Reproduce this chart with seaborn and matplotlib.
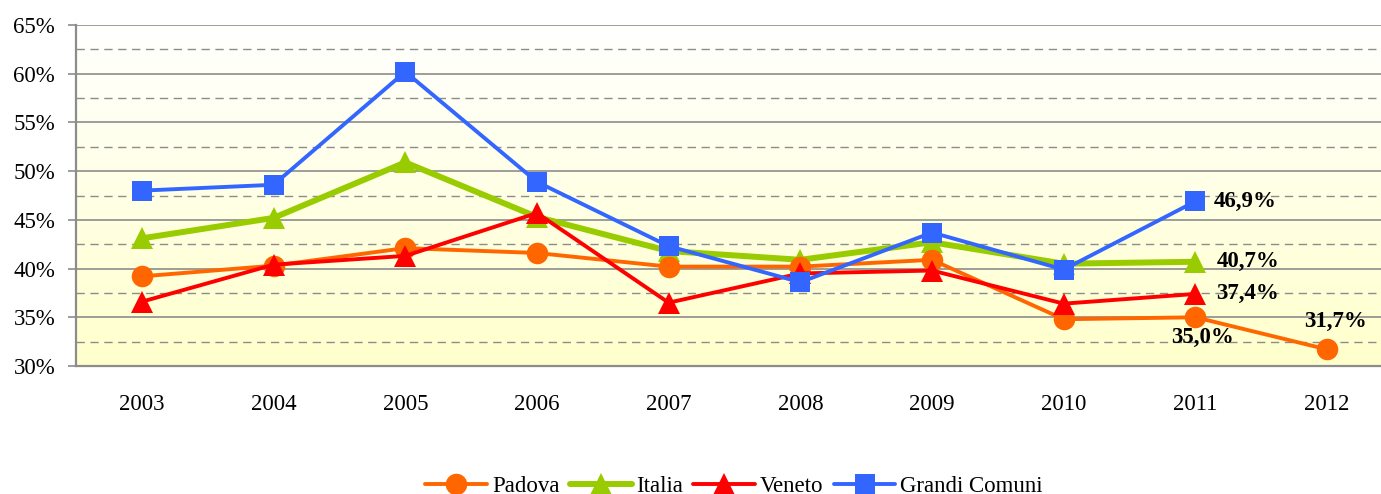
import numpy as np
import pandas as pd
import matplotlib
matplotlib.use("Agg")
import matplotlib.pyplot as plt
import seaborn as sns
from matplotlib.colors import LinearSegmentedColormap

years = ["2003", "2004", "2005", "2006", "2007", "2008", "2009", "2010", "2011", "2012"]
padova = [39.2, 40.3, 42.1, 41.6, 40.2, 40.2, 40.9, 34.8, 35.0, 31.7]
italia = [43.1, 45.2, 50.9, 45.3, 41.8, 40.9, 42.7, 40.5, 40.7, np.nan]
veneto = [36.6, 40.4, 41.3, 45.7, 36.5, 39.5, 39.8, 36.4, 37.4, np.nan]
grandi = [48.0, 48.6, 60.2, 48.9, 42.3, 38.6, 43.7, 39.9, 46.9, np.nan]
y_ticks = [30, 35, 40, 45, 50, 55, 60, 65]

sns.set_theme(style="white")
plt.rcParams['font.family'] = ['Liberation Serif', 'DejaVu Serif']
plt.rcParams['text.color'] = 'black'
plt.rcParams['xtick.color'] = 'black'
plt.rcParams['ytick.color'] = 'black'

W, H = 1381, 494
fig = plt.figure(figsize=(W / 100, H / 100), dpi=100)
ax = fig.add_axes([76 / W, 1 - 366 / H, (1393 - 76) / W, 341 / H])

x = np.arange(len(years))

# gradient background
cmap = LinearSegmentedColormap.from_list("bg", ["#FFFFFF", "#FFFFCC"])
grad = np.linspace(0, 1, 256).reshape(-1, 1)
ax.imshow(grad, aspect="auto", cmap=cmap, extent=[-0.5, 9.5, 30, 65],
          origin="upper", zorder=0)

# grid lines
for v in y_ticks:
    ax.axhline(v, color="#8C8C8C", lw=1.2, zorder=1)
for v in np.arange(32.5, 65, 5):
    ax.axhline(v, color="#8C8C8C", lw=1.0, ls=(0, (6, 4)), zorder=1)

series = [
    ("Italia", italia, "#99CC00", "^", 4.3, 16, 2),
    ("Padova", padova, "#FF6600", "o", 2.8, 15.5, 3),
    ("Veneto", veneto, "#FF0000", "^", 2.8, 16, 4),
    ("Grandi Comuni", grandi, "#3366FF", "s", 2.8, 14.5, 5),
]
for name, vals, col, mk, lw, ms, z in series:
    sns.lineplot(x=x, y=vals, ax=ax, color=col, marker=mk, markersize=ms,
                 linewidth=lw, markeredgewidth=0, zorder=z, label=name)
h, l = ax.get_legend_handles_labels()
ax.get_legend().remove()
hmap = dict(zip(l, h))
order = ["Padova", "Italia", "Veneto", "Grandi Comuni"]

ax.set_xlim(-0.5, 9.5)
ax.set_ylim(30, 65)
ax.set_yticks(y_ticks)
ax.set_yticklabels([f"{v}%" for v in y_ticks])
ax.set_xticks(x)
ax.set_xticklabels(years)
ax.set_xticks(np.arange(-0.5, 9.6, 1), minor=True)
ax.tick_params(axis="x", which="major", length=0, pad=20, labelsize=16.5)
ax.tick_params(axis="x", which="minor", length=7, color="#8C8C8C", width=1.2, direction="out")
ax.tick_params(axis="y", which="major", length=6, color="#8C8C8C", width=1.2,
               direction="out", labelsize=16.5, pad=9, left=True)
ax.grid(False)
for s in ["top", "right"]:
    ax.spines[s].set_visible(False)
for s in ["left", "bottom"]:
    ax.spines[s].set_color("#8C8C8C")
    ax.spines[s].set_linewidth(1.6)

# value labels
lab_kw = dict(fontsize=16.5, fontweight="bold", color="black", zorder=6)
ax.text(8.14, grandi[8], "46,9%", ha="left", va="center", **lab_kw)
ax.text(8.16, italia[8], "40,7%", ha="left", va="center", **lab_kw)
ax.text(8.16, veneto[8], "37,4%", ha="left", va="center", **lab_kw)
ax.text(8.05, padova[8] - 2.1, "35,0%", ha="center", va="center", **lab_kw)
ax.text(9.06, padova[9] + 2.9, "31,7%", ha="center", va="center", **lab_kw)

fig.legend([hmap[k] for k in order], order, loc="center",
           bbox_to_anchor=(734 / W, 8 / H), ncol=4, frameon=False,
           fontsize=16.5, handlelength=2.7, columnspacing=0.45, handletextpad=0.2,
           borderpad=0)

fig.savefig("out.png", dpi=100)
